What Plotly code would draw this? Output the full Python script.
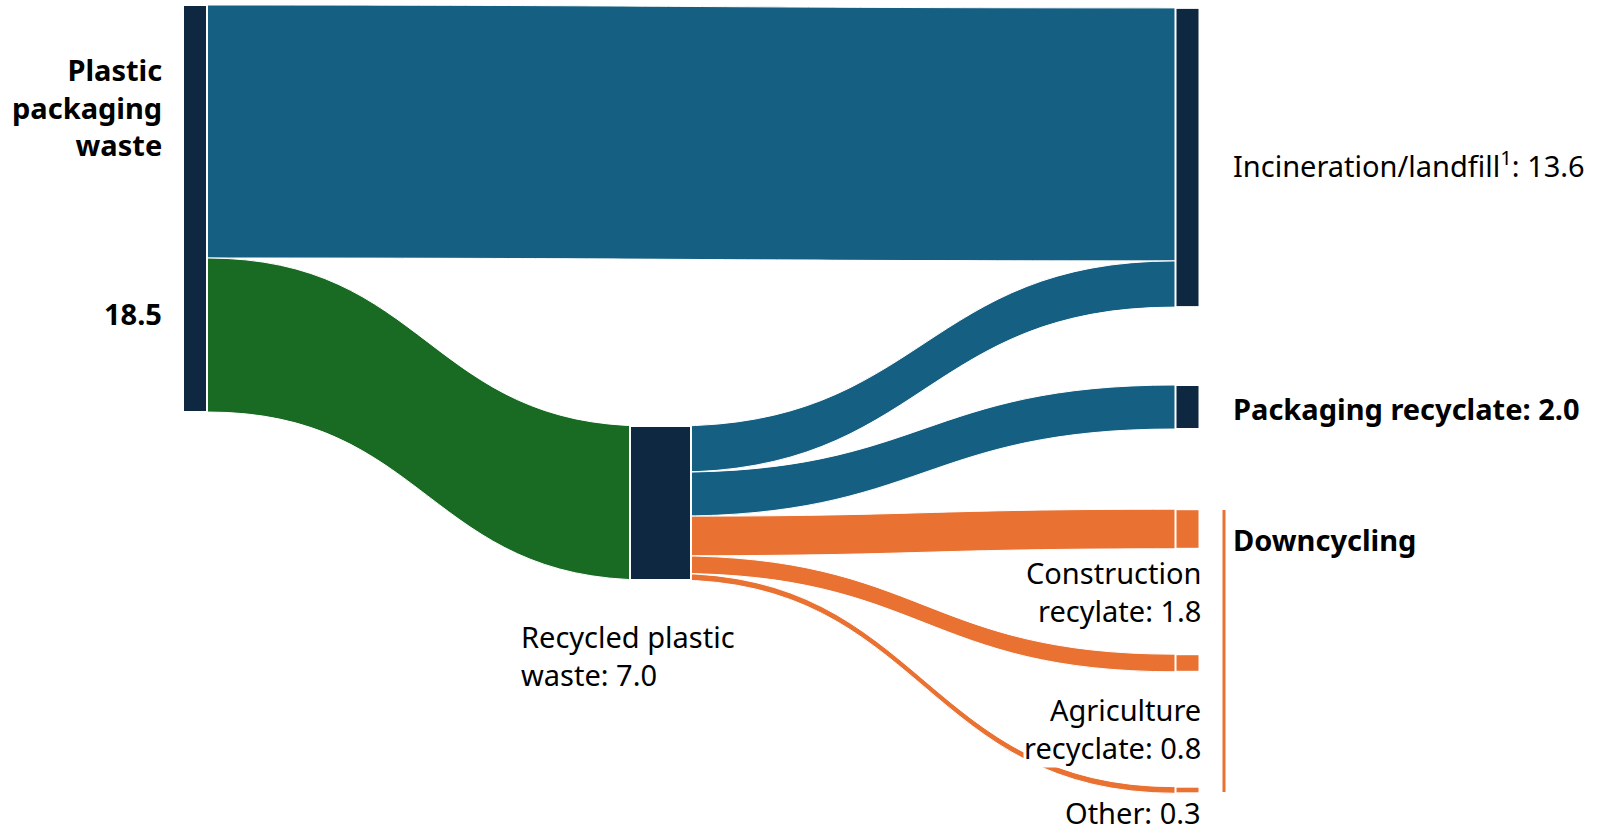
import plotly.graph_objects as go

# Flows of plastic packaging waste (million tonnes)
node_names = [
    "Plastic packaging waste",
    "Recycled plastic waste",
    "Incineration/landfill",
    "Packaging recyclate",
    "Construction recylate",
    "Agriculture recyclate",
    "Other",
]
link_source = [0, 0, 1, 1, 1, 1, 1]
link_target = [2, 1, 2, 3, 4, 5, 6]
link_value = [11.5, 7.0, 2.1, 2.0, 1.8, 0.8, 0.3]

W, H = 1598, 833
NAVY = "#0E2841"
BLUE = "#156082"
GREEN = "#196B24"
ORANGE = "#E97132"

node_colors = [NAVY, NAVY, NAVY, NAVY, ORANGE, ORANGE, ORANGE]
link_colors = [BLUE, GREEN, BLUE, BLUE, ORANGE, ORANGE, ORANGE]

# node centres in pixels (converted to fractions of the plot area)
node_px_x = [195, 660.5, 1187.5, 1187.5, 1187.5, 1187.5, 1187.5]
node_px_y = [208.5, 503, 157.5, 407, 529, 663, 790]
THICK = 24
MID_THICK = 61
PAD = 106.5

fig = go.Figure(
    go.Sankey(
        arrangement="fixed",
        domain=dict(x=[0, 1], y=[0, 1]),
        node=dict(
            label=node_names,
            x=[v / W for v in node_px_x],
            y=[v / H for v in node_px_y],
            color=node_colors,
            thickness=THICK,
            pad=PAD,
            line=dict(color="white", width=2),
        ),
        link=dict(
            source=link_source,
            target=link_target,
            value=link_value,
            color=link_colors,
            line=dict(color="white", width=1),
        ),
        textfont=dict(size=1, color="rgba(0,0,0,0)"),
    )
)

# pixels per unit of flow, as laid out by the sankey (right column holds 5 nodes)
right_total = sum(v for t, v in zip(link_target, link_value) if t >= 2)
ky = (H - 4 * PAD) / right_total

# the recycling node is drawn wider than the others
mid_value = sum(v for t, v in zip(link_target, link_value) if t == 1)
mid_h = mid_value * ky
mid_box = dict(
    type="rect", xref="paper", yref="paper", layer="above",
    x0=(node_px_x[1] - MID_THICK / 2) / W, x1=(node_px_x[1] + MID_THICK / 2) / W,
    y0=1 - (node_px_y[1] + mid_h / 2) / H, y1=1 - (node_px_y[1] - mid_h / 2) / H,
    fillcolor=NAVY, line=dict(color="white", width=2),
)

FONT = "Noto Sans"
FS = 29


def px(x, y):
    return x / W, 1 - y / H


annots = [
    dict(text="<b>Plastic<br>packaging<br>waste</b>", pos=(163, 107), xanchor="right", align="right"),
    dict(text="<b>18.5</b>", pos=(163, 314), xanchor="right", align="right"),
    dict(text="Recycled plastic<br>waste: 7.0", pos=(520, 655), xanchor="left", align="left"),
    dict(text="Incineration/landfill<sup>1</sup>: 13.6", pos=(1232, 164), xanchor="left", align="left"),
    dict(text="<b>Packaging recyclate: 2.0</b>", pos=(1232, 408), xanchor="left", align="left"),
    dict(text="<b>Downcycling</b>", pos=(1232, 539), xanchor="left", align="left"),
    dict(text="Construction<br>recylate: 1.8", pos=(1202, 591), xanchor="right", align="right"),
    dict(text="Agriculture<br>recyclate: 0.8", pos=(1202, 728), xanchor="right", align="right", bg=True),
    dict(text="Other: 0.3", pos=(1202, 812), xanchor="right", align="right"),
]

annotations = []
for a in annots:
    x, y = px(*a["pos"])
    annotations.append(
        dict(
            text=a["text"],
            x=x,
            y=y,
            xref="paper",
            yref="paper",
            xanchor=a["xanchor"],
            yanchor="middle",
            align=a["align"],
            showarrow=False,
            bgcolor="white" if a.get("bg") else None,
            borderpad=0,
            font=dict(family=FONT, size=FS, color="#000000"),
        )
    )

x0, y0 = px(1224, 510)
x1, y1 = px(1224, 792)
fig.update_layout(
    width=W,
    height=H,
    margin=dict(l=0, r=0, t=0, b=0),
    paper_bgcolor="white",
    plot_bgcolor="white",
    annotations=annotations,
    shapes=[
        mid_box,
        dict(type="line", xref="paper", yref="paper", x0=x0, x1=x1, y0=y0, y1=y1,
             line=dict(color=ORANGE, width=3)),
    ],
)

fig.write_html("out.html")
